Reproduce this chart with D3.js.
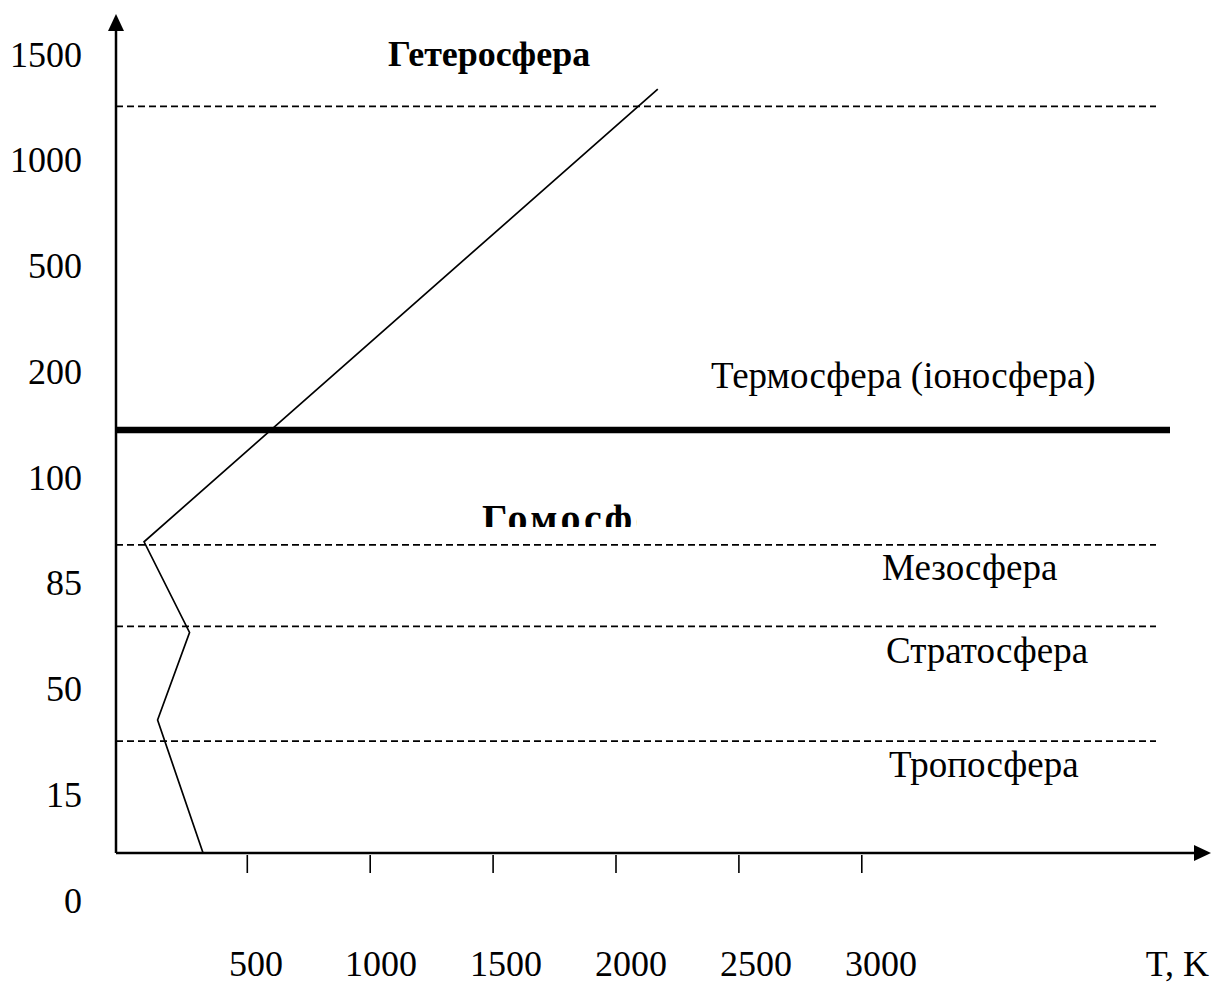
<!DOCTYPE html>
<html>
<head>
<meta charset="utf-8">
<script src="https://cdn.jsdelivr.net/npm/d3@7"></script>
<style>
    body { margin: 0; background: #fff; }
    text { font-family: "Liberation Serif", "Times New Roman", serif; fill: #000; }
</style>
</head>
<body>
<div id="chart"></div>
<script>
// altitude labels on the left (km)
var altLabels = [0, 15, 50, 85, 100, 200, 500, 1000, 1500];
// temperature ticks (K)
var tempTicks = [500, 1000, 1500, 2000, 2500, 3000];
// temperature profile
var profileT = [320, 135, 265, 80, 2170];
var profileAlt = [0, 24, 53, 83, 1112];
// layer boundaries (km)
var dashedBounds = [17, 55, 82, 1030];
var homoBound = 100;
var layerNames = ["Тропосфера", "Стратосфера", "Мезосфера", "Термосфера (іоносфера)"];
var sphereNames = ["Гетеросфера", "Гомосфера"];

var width = 1214, height = 985;
var ox = 116;

var svg = d3.select("#chart").append("svg")
    .attr("width", width)
    .attr("height", height);

var yLabel = d3.scalePoint().domain(altLabels).range([900, 54]);
var yAlt = d3.scaleLinear()
    .domain(altLabels)
    .range(altLabels.map(a => yLabel(a) - 47));
var x = d3.scaleLinear().domain([0, 3000]).range([124.4, 861.8]);
var xLab = d3.scaleLinear().domain([500, 3000]).range([256, 881]);

var oy = yAlt(0);

// dashed layer boundaries
svg.append("g")
    .selectAll("line")
    .data(dashedBounds)
    .join("line")
    .attr("x1", ox)
    .attr("x2", 1156)
    .attr("y1", d => yAlt(d))
    .attr("y2", d => yAlt(d))
    .attr("stroke", "#000")
    .attr("stroke-width", 1.8)
    .attr("stroke-dasharray", "7,4");

// homosphere / heterosphere boundary
svg.append("line")
    .attr("x1", ox)
    .attr("x2", 1170)
    .attr("y1", yAlt(homoBound))
    .attr("y2", yAlt(homoBound))
    .attr("stroke", "#000")
    .attr("stroke-width", 6.5);

// temperature profile
var line = d3.line()
    .x(d => x(d[0]))
    .y(d => yAlt(d[1]));

svg.append("path")
    .datum(d3.zip(profileT, profileAlt))
    .attr("d", line)
    .attr("fill", "none")
    .attr("stroke", "#000")
    .attr("stroke-width", 1.7);

// axes
svg.append("line")
    .attr("x1", ox).attr("x2", ox)
    .attr("y1", oy).attr("y2", 28)
    .attr("stroke", "#000").attr("stroke-width", 2.5);
svg.append("path")
    .attr("d", d3.line()([[ox, 14], [ox - 8, 31], [ox + 8, 31]]) + "Z")
    .attr("fill", "#000");

svg.append("line")
    .attr("x1", ox).attr("x2", 1196)
    .attr("y1", oy).attr("y2", oy)
    .attr("stroke", "#000").attr("stroke-width", 2.5);
svg.append("path")
    .attr("d", d3.line()([[1211, oy], [1194, oy - 8], [1194, oy + 8]]) + "Z")
    .attr("fill", "#000");

svg.append("g")
    .selectAll("line")
    .data(tempTicks)
    .join("line")
    .attr("x1", d => x(d))
    .attr("x2", d => x(d))
    .attr("y1", oy + 2)
    .attr("y2", oy + 20)
    .attr("stroke", "#000")
    .attr("stroke-width", 1.6);

// tick labels
svg.append("g")
    .selectAll("text")
    .data(altLabels)
    .join("text")
    .attr("x", 82)
    .attr("y", d => yLabel(d))
    .attr("dy", "0.35em")
    .attr("text-anchor", "end")
    .attr("font-size", 36)
    .text(d => d);

svg.append("g")
    .selectAll("text")
    .data(tempTicks)
    .join("text")
    .attr("x", d => xLab(d))
    .attr("y", 976)
    .attr("text-anchor", "middle")
    .attr("font-size", 36)
    .text(d => d);

svg.append("text")
    .attr("x", 1209)
    .attr("y", 976)
    .attr("text-anchor", "end")
    .attr("font-size", 36)
    .text("T, K");

// layer names
var layerPos = [[889, 777], [886, 663], [882, 580], [711, 388]];
svg.append("g")
    .selectAll("text")
    .data(layerNames)
    .join("text")
    .attr("x", (d, i) => layerPos[i][0])
    .attr("y", (d, i) => layerPos[i][1])
    .attr("font-size", 37)
    .text(d => d);

svg.append("text")
    .attr("x", 388)
    .attr("y", 66)
    .attr("font-size", 36)
    .attr("font-weight", "bold")
    .text(sphereNames[0]);

// clipped label, as in the source figure
svg.append("clipPath")
    .attr("id", "homoClip")
    .append("rect")
    .attr("x", 470).attr("y", 480)
    .attr("width", 167).attr("height", 47);

svg.append("text")
    .attr("x", 482)
    .attr("y", 532)
    .attr("font-size", 40)
    .attr("font-weight", "bold")
    .attr("letter-spacing", 3.5)
    .attr("clip-path", "url(#homoClip)")
    .text(sphereNames[1]);
</script>
</body>
</html>
